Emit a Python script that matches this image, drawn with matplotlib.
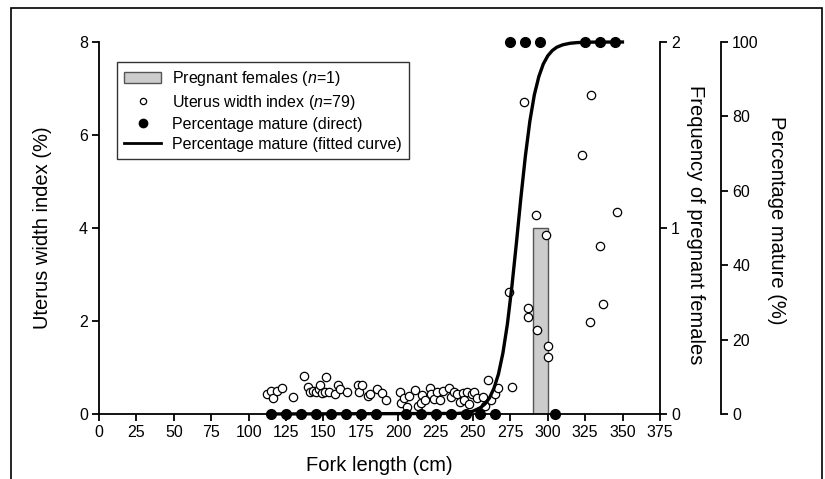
import matplotlib
matplotlib.use('Agg')
import matplotlib.pyplot as plt
from matplotlib.patches import Rectangle, Patch
from matplotlib.lines import Line2D

plt.rcParams['font.family'] = ['Liberation Sans', 'DejaVu Sans']
plt.rcParams['mathtext.fontset'] = 'custom'
plt.rcParams['mathtext.rm'] = 'Liberation Sans'
plt.rcParams['mathtext.it'] = 'Liberation Sans:italic'

# uterus width index (n=79)
uwi_len = [112, 115, 116, 119, 122, 130, 137, 140, 141, 143, 145, 147, 148, 149, 152,
           151, 154, 158, 160, 161, 166, 173, 174, 176, 180, 181, 186, 189, 192,
           201, 202, 204, 206, 207, 211, 213, 215, 216, 218, 221, 222, 224, 226, 228,
           230, 234, 235, 237, 239, 241, 243, 244, 246, 247, 249, 251, 253, 257, 260,
           258, 262, 265, 267,
           284, 329, 323, 292, 346, 299, 335, 274, 337, 287, 287, 328, 293, 300, 300, 276]
uwi_val = [0.42, 0.49, 0.35, 0.50, 0.55, 0.37, 0.81, 0.57, 0.48, 0.50, 0.47, 0.54, 0.62, 0.46, 0.79,
           0.48, 0.48, 0.43, 0.63, 0.54, 0.48, 0.63, 0.47, 0.62, 0.39, 0.42, 0.53, 0.46, 0.30,
           0.48, 0.23, 0.35, 0.16, 0.38, 0.52, 0.18, 0.24, 0.40, 0.30, 0.55, 0.42, 0.33, 0.48, 0.30,
           0.50, 0.55, 0.36, 0.48, 0.42, 0.25, 0.45, 0.30, 0.48, 0.22, 0.42, 0.47, 0.35, 0.37, 0.73,
           0.18, 0.30, 0.44, 0.55,
           6.70, 6.85, 5.58, 4.29, 4.34, 3.85, 3.61, 2.63, 2.37, 2.27, 2.09, 1.98, 1.81, 1.47, 1.23, 0.57]

# pregnant females
preg_len = [295]
preg_count = [1]

# percentage mature (direct)
mat_len = [115, 125, 135, 145, 155, 165, 175, 185, 205, 215, 225, 235, 245, 255, 265, 305,
           275, 285, 295, 325, 335, 345]
mat_pct = [0] * 16 + [100] * 6

# fitted curve
fit_len = [112, 240, 245, 250, 255, 258, 261, 264, 267, 270, 273, 276, 279, 282, 285,
           288, 291, 294, 297, 300, 303, 306, 310, 315, 320, 330, 351]
fit_pct = [0, 0.15, 0.33, 0.75, 1.7, 2.7, 4.3, 6.9, 10.7, 16.4, 24.2, 34.3, 45.9, 58.1, 69.3,
           78.7, 85.8, 90.7, 94.1, 96.3, 97.7, 98.6, 99.25, 99.67, 99.85, 99.97, 100]

fig = plt.figure(figsize=(8.25, 4.79), dpi=100)
ax = fig.add_axes([0.12, 0.1357, 0.68, 0.7766])
ax_f = ax.twinx()
ax_p = ax.twinx()

ax_f.set_zorder(1)
ax.set_zorder(2)
ax_p.set_zorder(3)
ax.patch.set_visible(False)
ax_p.patch.set_visible(False)

# bars
ax_f.bar(preg_len, preg_count, width=10, color='#cccccc', edgecolor='#555555', linewidth=1)
ax_f.set_ylim(0, 2)
ax_f.set_yticks([0, 1, 2])

# scatter
ax.plot(uwi_len, uwi_val, 'o', ms=6, mfc='white', mec='black', mew=0.9, clip_on=False)
ax.set_xlim(0, 375)
ax.set_ylim(0, 8)
ax.set_xticks(range(0, 376, 25))
ax.set_yticks([0, 2, 4, 6, 8])

# maturity
ax_p.plot(fit_len, fit_pct, color='black', lw=2.4, clip_on=False, solid_capstyle='butt')
ax_p.plot(mat_len, mat_pct, 'o', ms=7, color='black', clip_on=False)
ax_p.set_ylim(0, 100)
ax_p.set_yticks([0, 20, 40, 60, 80, 100])
ax_p.spines['right'].set_position(('outward', 44))

for a in (ax, ax_f, ax_p):
    a.spines['top'].set_visible(False)
    for s in a.spines.values():
        s.set_linewidth(1.3)
    a.tick_params(direction='out', length=5, width=1.3, labelsize=11.5, pad=3)
ax.spines['right'].set_visible(False)
for a in (ax_f, ax_p):
    a.spines['left'].set_visible(False)
    a.spines['bottom'].set_visible(False)

ax.set_xlabel('Fork length (cm)', fontsize=14.5, va='center')
ax.xaxis.set_label_coords(0.5, -0.138)
ax.set_ylabel('Uterus width index (%)', fontsize=14.5, va='center')
ax.yaxis.set_label_coords(-0.1, 0.5)
ax_f.set_ylabel('Frequency of pregnant females', fontsize=14.5, rotation=270, va='center')
ax_f.yaxis.set_label_coords(1.064, 0.51)
ax_p.set_ylabel('Percentage mature (%)', fontsize=14.5, rotation=270, va='center')
ax_p.yaxis.set_label_coords(1.207, 0.52)

handles = [Patch(facecolor='#cccccc', edgecolor='#555555'),
           Line2D([], [], ls='none', marker='o', ms=4.5, mfc='white', mec='black', mew=0.9),
           Line2D([], [], ls='none', marker='o', ms=6, color='black'),
           Line2D([], [], color='black', lw=2)]
labels = ['Pregnant females ($n$=1)', 'Uterus width index ($n$=79)',
          'Percentage mature (direct)', 'Percentage mature (fitted curve)']
leg = ax_p.legend(handles, labels, loc='upper left', bbox_to_anchor=(117 / 825, 1 - 62 / 479),
                  bbox_transform=fig.transFigure, fontsize=11.5, frameon=True, fancybox=False,
                  edgecolor='black', handlelength=2.3, handletextpad=0.7, labelspacing=0.3,
                  borderaxespad=0, borderpad=0.45)
leg.get_frame().set_linewidth(1)

fig.patches.append(Rectangle((11 / 825, -0.1), 811 / 825, 1.1 - 8 / 479, transform=fig.transFigure,
                             fill=False, edgecolor='black', linewidth=1.2))

fig.savefig('out.png', dpi=100)
